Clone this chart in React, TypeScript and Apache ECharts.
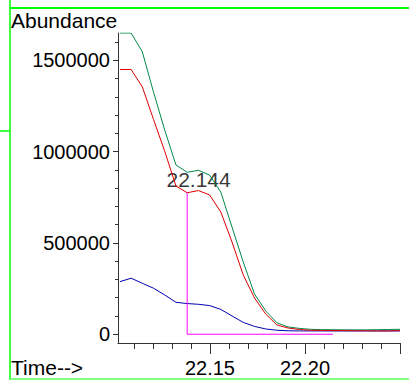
import React, { useEffect, useRef } from 'react';
import * as echarts from 'echarts';

// scan times (min)
const times = [22.1026, 22.1085, 22.1144, 22.1203, 22.1262, 22.1321, 22.1380, 22.1439, 22.1498, 22.1557, 22.1616, 22.1675, 22.1734, 22.1793, 22.1852, 22.1911, 22.1970, 22.2029, 22.2088, 22.2147, 22.2205, 22.2264, 22.2323, 22.2382, 22.2441, 22.2500];
const greenTrace = [1650000, 1650000, 1547000, 1326000, 1118000, 927000, 887000, 898000, 872000, 779000, 587000, 396000, 221000, 128000, 63000, 40000, 32000, 27000, 25000, 25000, 24000, 24000, 24000, 25000, 26000, 27000];
const redTrace = [1450000, 1450000, 1355000, 1176000, 1002000, 812000, 775000, 787000, 763000, 670000, 505000, 325000, 199000, 111000, 51000, 34000, 26000, 22000, 21000, 20000, 20000, 19000, 19000, 18000, 18000, 20000];
const blueTrace = [288000, 307000, 279000, 252000, 215000, 175000, 168000, 164000, 157000, 136000, 100000, 65000, 43000, 29000, 22000, 19000, 18000, 18000, 18000, 18000, 18000, 18000, 18000, 18000, 18000, 18000];

// integration baseline marker
const baselineTimes = [22.1380, 22.1380, 22.2147];
const baselineValues = [775000, 0, 0];

// apex annotation
const apexLabel = '22.144';
const apexTime = 22.144;
const apexLabelValue = 845000;

// axis ticks
const xMinorTicks = [22.11, 22.12, 22.13, 22.14, 22.16, 22.17, 22.18, 22.19, 22.21, 22.22, 22.23, 22.24];
const xMajorTicks = [22.15, 22.2, 22.25];
const xLabels = [22.15, 22.2];
const yMinorTicks = [100000, 200000, 300000, 400000, 600000, 700000, 800000, 900000, 1100000, 1200000, 1300000, 1400000, 1600000];
const yMajorTicks = [0, 500000, 1000000, 1500000];

export default function App() {
  const ref = useRef<HTMLDivElement>(null);
  useEffect(() => {
    const chart = echarts.init(ref.current!, null, { renderer: 'svg' });
    const font = 'Liberation Sans, Arial, sans-serif';
    const xMin = 22.1016, xMax = 22.25, yMin = -48000, yMax = 1650000;
    const axisColor = '#333';
    const mk = (vals: number[]) => times.map((t, i) => [t, vals[i]]);
    chart.setOption({
      animation: false,
      grid: { left: 118, right: 9, top: 33, bottom: 38 },
      xAxis: [
        {
          type: 'value', min: xMin, max: xMax, position: 'bottom',
          axisLine: { show: true, onZero: false, lineStyle: { color: axisColor, width: 1 } },
          axisTick: { show: true, length: 6, customValues: xMinorTicks, lineStyle: { color: axisColor } },
          axisLabel: { show: false },
          splitLine: { show: false },
        },
        {
          type: 'value', min: xMin, max: xMax, position: 'bottom',
          axisLine: { show: false, onZero: false },
          axisTick: { show: true, length: 11, customValues: xMajorTicks, lineStyle: { color: axisColor } },
          axisLabel: { show: true, customValues: xLabels, formatter: (v: number) => v.toFixed(2), fontSize: 20, color: '#000', margin: 15, fontFamily: font },
          splitLine: { show: false },
        },
      ],
      yAxis: [
        {
          type: 'value', min: yMin, max: yMax, position: 'left',
          axisLine: { show: true, onZero: false, lineStyle: { color: axisColor, width: 1 } },
          axisTick: { show: true, length: 3, customValues: yMinorTicks, lineStyle: { color: axisColor } },
          axisLabel: { show: false },
          splitLine: { show: false },
        },
        {
          type: 'value', min: yMin, max: yMax, position: 'left',
          axisLine: { show: false, onZero: false },
          axisTick: { show: true, length: 5, customValues: yMajorTicks, lineStyle: { color: axisColor } },
          axisLabel: { show: true, customValues: yMajorTicks, formatter: (v: number) => String(v), fontSize: 20, color: '#000', margin: 8, fontFamily: font },
          splitLine: { show: false },
        },
      ],
      series: [
        { type: 'line', data: mk(blueTrace), symbol: 'none', lineStyle: { color: '#0000b4', width: 1 }, itemStyle: { color: '#0000b4' } },
        { type: 'line', data: mk(greenTrace), symbol: 'none', lineStyle: { color: '#008a4a', width: 1 }, itemStyle: { color: '#008a4a' } },
        { type: 'line', data: mk(redTrace), symbol: 'none', lineStyle: { color: '#e00000', width: 1 }, itemStyle: { color: '#e00000' } },
        { type: 'line', data: baselineTimes.map((t, i) => [t, baselineValues[i]]), symbol: 'none', lineStyle: { color: '#ff00ff', width: 1 }, itemStyle: { color: '#ff00ff' } },
        {
          type: 'scatter', data: [[apexTime, apexLabelValue]], symbolSize: 1, itemStyle: { color: 'rgba(0,0,0,0)' },
          label: { show: true, position: 'inside', formatter: apexLabel, fontSize: 21, color: '#000', fontFamily: font },
        },
      ],
      graphic: [
        { type: 'line', shape: { x1: 10, y1: 0, x2: 10, y2: 380 }, style: { stroke: '#00ff00', lineWidth: 1.5 } },
        { type: 'line', shape: { x1: 10, y1: 8, x2: 409, y2: 8 }, style: { stroke: '#00ff00', lineWidth: 2 } },
        { type: 'line', shape: { x1: 10, y1: 379, x2: 409, y2: 379 }, style: { stroke: '#80ff80', lineWidth: 2 } },
        { type: 'line', shape: { x1: 0, y1: 131, x2: 9, y2: 131 }, style: { stroke: '#00ff00', lineWidth: 1.5 } },
        { type: 'text', left: 11, top: 10, style: { text: 'Abundance', fontSize: 21, fill: '#000', fontFamily: font } },
        { type: 'text', left: 11, top: 357, style: { text: 'Time-->', fontSize: 21, fill: '#000', fontFamily: font } },
      ],
    });
    return () => chart.dispose();
  }, []);
  return <div ref={ref} style={{ position: 'fixed', left: 0, top: 0, width: 409, height: 381, background: '#fff' }} />;
}
